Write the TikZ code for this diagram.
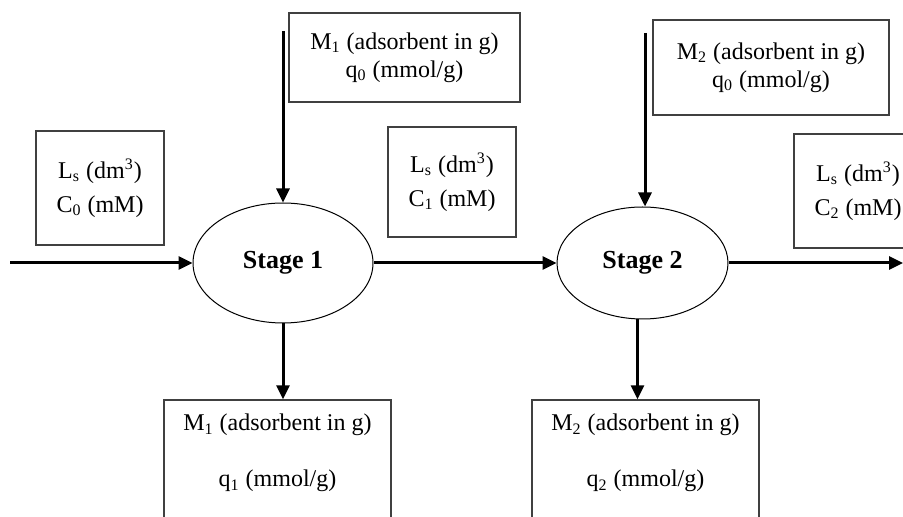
\documentclass[tikz,border=0pt]{standalone}
\usepackage{fontspec}
\setmainfont{Liberation Serif}
\usetikzlibrary{arrows.meta,shapes.geometric}

\begin{document}
\begin{tikzpicture}[x=0.5pt,y=-0.5pt,
    font=\fontsize{12}{14}\selectfont,
    databox/.style={draw=black!75,line width=0.7pt,align=center,inner sep=0pt},
    stagenode/.style={draw,ellipse,line width=0.5pt,inner sep=0pt,
      font=\fontsize{13}{15}\selectfont\bfseries},
    flow/.style={line width=1.5pt,-{Triangle[length=7pt,width=6.5pt]}}]
    \useasboundingbox (0,0) rectangle (903,517);
    \clip (0,0) rectangle (903,517);
    %%
    \node[stagenode,minimum width=90pt,minimum height=60pt] (st1) at (283,263) {Stage 1};
    \node[stagenode,minimum width=85.5pt,minimum height=56pt] (st2) at (642.5,263) {Stage 2};
    %%
    \node[databox,minimum width=64pt,minimum height=57pt] (liq0) at (100,188)
      {L\textsubscript{s} (dm\textsuperscript{3})\\[3pt] C\textsubscript{0} (mM)};
    \node[databox,minimum width=64pt,minimum height=55pt] (liq1) at (452,182)
      {L\textsubscript{s} (dm\textsuperscript{3})\\[3pt] C\textsubscript{1} (mM)};
    \node[databox,minimum width=64pt,minimum height=57pt] (liq2) at (858,191)
      {L\textsubscript{s} (dm\textsuperscript{3})\\[3pt] C\textsubscript{2} (mM)};
    %%
    \node[databox,minimum width=115.5pt,minimum height=44.5pt] (sorb1in) at (404.5,57.5)
      {M\textsubscript{1} (adsorbent in g)\\ q\textsubscript{0} (mmol/g)};
    \node[databox,minimum width=118pt,minimum height=47.5pt] (sorb2in) at (771,67.5)
      {M\textsubscript{2} (adsorbent in g)\\ q\textsubscript{0} (mmol/g)};
    %%
    \node[databox,minimum width=113.5pt,minimum height=80pt] (sorb1out) at (277.5,480) {};
    \node[align=center,anchor=north] (sorb1txt) at ([yshift=-3.7pt]sorb1out.north)
      {M\textsubscript{1} (adsorbent in g)\\[14pt] q\textsubscript{1} (mmol/g)};
    \node[databox,minimum width=113.5pt,minimum height=80pt] (sorb2out) at (645.5,480) {};
    \node[align=center,anchor=north] (sorb2txt) at ([yshift=-3.7pt]sorb2out.north)
      {M\textsubscript{2} (adsorbent in g)\\[14pt] q\textsubscript{2} (mmol/g)};
    %%
    \coordinate (feed) at (10,263);
    \coordinate (sorb1feed) at (283,31);
    \coordinate (sorb2feed) at (645,33);
    \coordinate (drain) at (903,263);
    %%
    \draw[flow] (feed) -- (st1.west);
    \draw[flow] (sorb1feed) -- (st1.north);
    \draw[flow] (st1.east) -- (st2.west);
    \draw[flow] (st1.south) -- (st1.south |- sorb1out.north);
    \draw[flow] (sorb2feed) -- (sorb2feed |- st2.north);
    \draw[flow] ([xshift=-2.5pt]st2.south) -- ([xshift=-2.5pt]st2.south |- sorb2out.north);
    \draw[flow] (st2.east) -- (drain);
\end{tikzpicture}
\end{document}
